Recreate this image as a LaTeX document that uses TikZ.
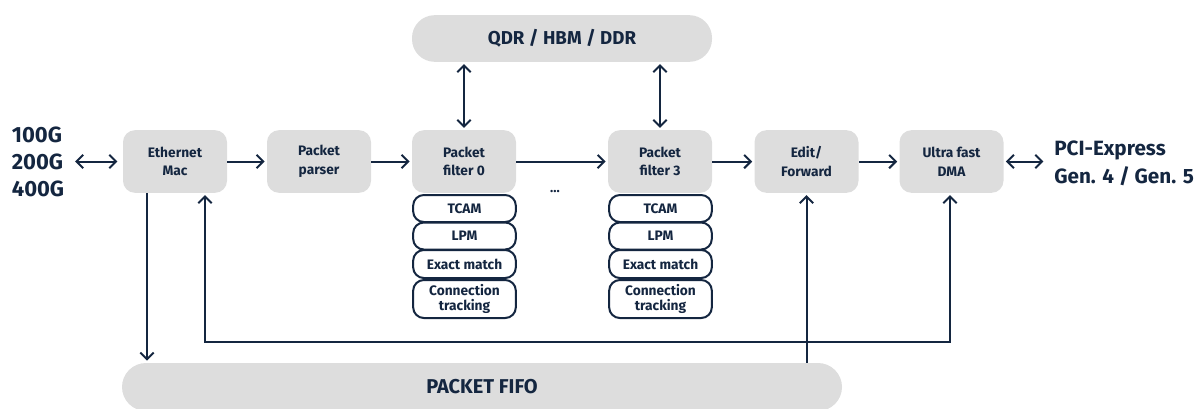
\documentclass[tikz,border=0pt]{standalone}
\usepackage{fontspec}
\setmainfont{Fira Sans}
\usetikzlibrary{arrows.meta}
\definecolor{navy}{RGB}{20,38,64}
\definecolor{boxgrey}{RGB}{221,221,221}

\begin{document}
\begin{tikzpicture}[x=0.75pt,y=0.75pt,yscale=-1,xscale=1,
        blk/.style={fill=boxgrey, rounded corners=9pt, minimum width=78pt, minimum height=47pt, inner sep=0pt, align=center, text=navy, font=\bfseries\fontsize{10.3}{14}\selectfont},
        pill/.style={fill=boxgrey, rounded corners=17pt, minimum width=225pt, minimum height=35pt, inner sep=0pt, text=navy, font=\bfseries\fontsize{14}{17}\selectfont},
        sub/.style={draw=navy, line width=1.5pt, fill=white, rounded corners=8pt, minimum width=77pt, inner sep=0pt, align=center, text=navy, font=\bfseries\fontsize{10.3}{11.5}\selectfont},
        side/.style={inner sep=0pt, align=left, text=navy, font=\bfseries\fontsize{16.5}{20.5}\selectfont},
        lnk/.style={draw=navy, line width=1.5pt, -{Straight Barb[length=5pt,width=10pt]}, shorten >=1.5pt},
        dbl/.style={draw=navy, line width=1.5pt, {Straight Barb[length=5pt,width=10pt]}-{Straight Barb[length=5pt,width=10pt]}, shorten >=1.5pt, shorten <=1.5pt}]
        \useasboundingbox (0,0) rectangle (1198,408);

        % Memory
        \node[pill] (mem) at (562,38.5) {QDR / HBM / DDR};

        % Pipeline blocks
        \node[blk] (eth) at (175,161.5) {Ethernet\\Mac};
        \node[blk] (parse) at (319,161.5) {Packet\\parser};
        \node[blk] (flt0) at (464,161.5) {Packet\\filter 0};
        \node[blk] (flt3) at (660,161.5) {Packet\\filter 3};
        \node[blk] (edit) at (806.5,161.5) {Edit/\\Forward};
        \node[blk] (dma) at (951.5,161.5) {Ultra fast\\DMA};

        % Filter 0 tables
        \node[sub, minimum height=20.25pt] (tcamA) at (464.5,208.5) {TCAM};
        \node[sub, minimum height=20.25pt] (lpmA) at (464.5,236) {LPM};
        \node[sub, minimum height=21pt] (exactA) at (464.5,264) {Exact match};
        \node[sub, minimum height=28.5pt] (connA) at (464.5,299) {Connection\\tracking};
        % Filter 3 tables
        \node[sub, minimum height=20.25pt] (tcamB) at (660.5,208.5) {TCAM};
        \node[sub, minimum height=20.25pt] (lpmB) at (660.5,236) {LPM};
        \node[sub, minimum height=21pt] (exactB) at (660.5,264) {Exact match};
        \node[sub, minimum height=28.5pt] (connB) at (660.5,299) {Connection\\tracking};

        % Text Node
        \node[text=navy, font=\bfseries\fontsize{10}{10}\selectfont] (dots) at (555,192) {...};

        % FIFO
        \node[pill, minimum width=540pt, minimum height=36pt, rounded corners=18pt, font=\bfseries\fontsize{15}{17}\selectfont] (fifo) at (482,387) {PACKET FIFO};

        % Side labels
        \node[side] (rates) at (38,162) {100G\\200G\\400G};
        \node[side, anchor=west, font=\bfseries\fontsize{15.5}{21}\selectfont] (pci) at (1054,163) {PCI-Express\\Gen. 4 / Gen. 5};

        % Loop columns
        \coordinate (colA) at (147,342);
        \coordinate (colB) at (205,342);
        \coordinate (colC) at (950,342);

        % Connectors
        \draw[dbl, shorten <=8pt, shorten >=4pt] (rates.east |- eth.west) -- (eth.west);
        \draw[lnk] (eth) -- (parse);
        \draw[lnk] (parse) -- (flt0);
        \draw[lnk] (flt0) -- (flt3);
        \draw[lnk] (flt3) -- (edit);
        \draw[lnk] (edit) -- (dma);
        \draw[dbl, shorten >=8pt] (dma.east) -- (pci.west |- dma.east);
        \draw[dbl] (mem.south -| flt0) -- (flt0.north);
        \draw[dbl] (mem.south -| flt3) -- (flt3.north);
        \draw[lnk] (eth.south -| colA) -- (fifo.north -| colA);
        \draw[dbl] (eth.south -| colB) -- (colB) -- (colC) -- (dma.south -| colC);
        \draw[lnk] (fifo.north -| edit) -- (edit.south);

\end{tikzpicture}
\end{document}
